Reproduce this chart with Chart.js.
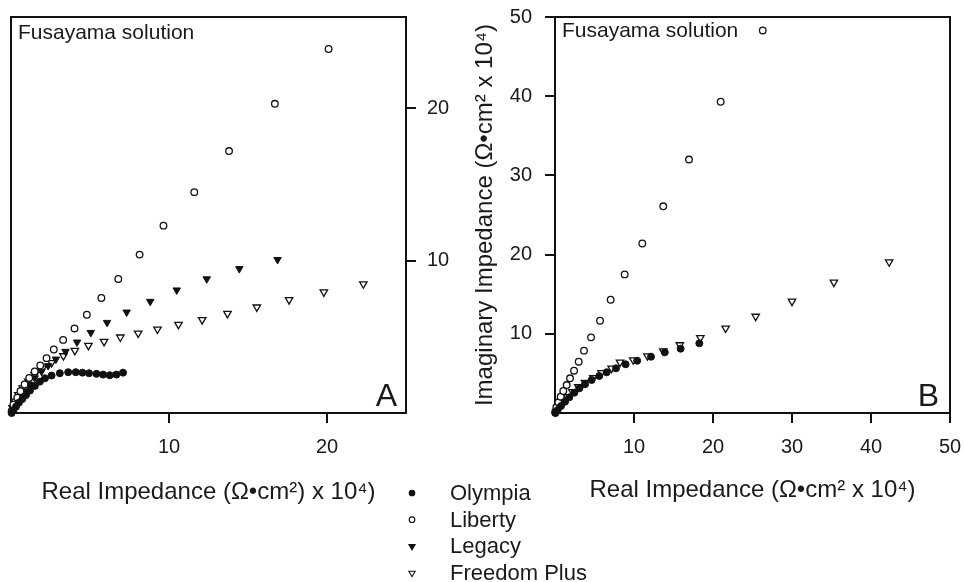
<!DOCTYPE html>
<html><head><meta charset="utf-8">
<script src="https://cdn.jsdelivr.net/npm/chart.js@4.4.1/dist/chart.umd.min.js"></script>
<style>
html,body{margin:0;padding:0;background:#fff;}
#wrap{position:relative;width:964px;height:582px;overflow:hidden;background:#fff;}
canvas{position:absolute;top:0;}
#ca{left:0;}
#cb{left:460px;}
</style></head><body>
<div id="wrap">
<canvas id="ca" width="600" height="582"></canvas>
<canvas id="cb" width="504" height="582"></canvas>
</div>
<script>
// ---------- data ----------
const seriesNames = ['Olympia', 'Liberty', 'Legacy', 'Freedom Plus'];

// Panel A
const aOlympiaX = [0.04,0.15,0.32,0.5,0.72,0.95,1.2,1.51,1.83,2.15,2.57,3.09,3.62,4.1,4.52,4.94,5.41,5.83,6.25,6.67,7.09];
const aOlympiaY = [0.0,0.15,0.42,0.68,0.92,1.18,1.47,1.78,2.06,2.28,2.46,2.61,2.68,2.68,2.65,2.61,2.57,2.52,2.48,2.52,2.65];
const aLibertyX = [0.04,0.15,0.4,0.6,0.86,1.15,1.5,1.85,2.25,2.71,3.3,4.02,4.8,5.72,6.79,8.14,9.65,11.6,13.8,16.7,20.1];
const aLibertyY = [0.12,0.55,1.0,1.43,1.87,2.3,2.73,3.12,3.6,4.17,4.8,5.55,6.45,7.55,8.8,10.4,12.3,14.5,17.2,20.3,23.9];
const aLegacyX = [0.08,0.25,0.53,0.82,1.16,1.5,1.93,2.35,2.84,3.45,4.18,5.05,6.08,7.32,8.81,10.49,12.39,14.45,16.87];
const aLegacyY = [0.12,0.56,1.0,1.43,1.87,2.3,2.73,3.1,3.53,4.04,4.65,5.28,5.94,6.62,7.32,8.07,8.8,9.47,10.07];
const aFreedomX = [0.1,0.25,0.46,0.74,1.09,1.5,2.0,2.57,3.32,4.04,4.9,5.89,6.92,8.05,9.27,10.6,12.1,13.7,15.56,17.6,19.8,22.3];
const aFreedomY = [0.34,0.77,1.2,1.64,2.08,2.5,2.94,3.3,3.75,4.1,4.43,4.69,4.98,5.24,5.5,5.81,6.12,6.53,6.95,7.43,7.94,8.47];

// Panel B
const bOlympiaX = [0.05,0.34,0.76,1.27,1.81,2.45,3.08,3.8,4.64,5.6,6.54,7.72,8.94,10.4,12.15,13.9,15.9,18.27];
const bOlympiaY = [0.0,0.38,0.88,1.43,1.98,2.57,3.12,3.62,4.17,4.67,5.14,5.64,6.15,6.6,7.11,7.66,8.12,8.8];
const bLibertyX = [0.02,0.17,0.42,0.72,1.05,1.48,1.9,2.41,3.0,3.67,4.56,5.7,7.05,8.82,11.05,13.7,16.96,20.97,26.3];
const bLibertyY = [0.1,0.72,1.35,2.06,2.78,3.53,4.38,5.34,6.48,7.87,9.55,11.65,14.3,17.5,21.4,26.1,32.0,39.3,48.3];
const bFreedomX = [0.17,0.55,1.0,1.56,2.2,2.95,3.8,4.85,5.9,7.17,8.23,9.9,11.7,13.7,15.8,18.4,21.6,25.4,30.0,35.3,42.3];
const bFreedomY = [0.17,0.8,1.43,2.06,2.69,3.32,3.83,4.46,5.09,5.64,6.4,6.7,7.2,7.83,8.6,9.5,10.7,12.2,14.1,16.5,19.07];

// Tick labels
const aXTicks = [10, 20];
const aYTicks = [10, 20];
const bXTicks = [10, 20, 30, 40, 50];
const bYTicks = [10, 20, 30, 40, 50];

const noteText = 'Fusayama solution';
const aXTitle = 'Real Impedance (Ω•cm²) x 10⁴)';
const bXTitle = 'Real Impedance (Ω•cm² x 10⁴)';
const bYTitle = 'Imaginary Impedance (Ω•cm² x 10⁴)';

// ---------- styling ----------
const FAM = '"Liberation Sans", Arial, Helvetica, sans-serif';
const INK = '#111';
Chart.defaults.font.family = FAM;
Chart.defaults.color = '#1a1a1a';

const styles = {
  'Olympia':      {pointStyle:'circle',   rotation:0,   radius:3.5, bg:INK,    bw:1},
  'Liberty':      {pointStyle:'circle',   rotation:0,   radius:3.3, bg:'#fff', bw:1.3},
  'Legacy':       {pointStyle:'triangle', rotation:180, radius:4.3, bg:INK,    bw:1},
  'Freedom Plus': {pointStyle:'triangle', rotation:180, radius:4.3, bg:'#fff', bw:1.3}
};

function zip(xs, ys){ return xs.map((x,i)=>({x:x, y:ys[i]})); }
function ds(name, xs, ys){
  const s = styles[name];
  return {
    label:name, data:zip(xs,ys), showLine:false, clip:false,
    pointStyle:s.pointStyle, rotation:s.rotation, pointRadius:s.radius,
    pointBackgroundColor:s.bg, pointBorderColor:INK, pointBorderWidth:s.bw,
    pointHoverRadius:s.radius
  };
}

const framePlugin = {
  id:'frame',
  beforeDatasetsDraw(chart, args, o){
    const {ctx, chartArea:{left,top,right,bottom}} = chart;
    ctx.save();
    ctx.strokeStyle = INK; ctx.lineWidth = 2;
    ctx.strokeRect(left, top, right-left, bottom-top);
    ctx.fillStyle = '#1a1a1a';
    ctx.textBaseline = 'alphabetic';
    ctx.textAlign = 'left';
    ctx.font = '21px ' + FAM;
    ctx.fillText(o.note, left + 7, top + o.noteDy);
    ctx.textAlign = 'right';
    ctx.font = '32px ' + FAM;
    ctx.fillText(o.letter, right - o.letterDx, bottom - 7);
    ctx.restore();
  }
};

function drawMarker(ctx, s, x, y, r){
  ctx.beginPath();
  if (s.pointStyle === 'circle') {
    ctx.arc(x, y, r, 0, Math.PI*2);
  } else {
    const h = r;
    ctx.moveTo(x - h*0.87, y - h*0.5);
    ctx.lineTo(x + h*0.87, y - h*0.5);
    ctx.lineTo(x, y + h);
    ctx.closePath();
  }
  ctx.fillStyle = s.bg; ctx.fill();
  ctx.lineWidth = 1.1; ctx.strokeStyle = INK; ctx.stroke();
}

const legendPlugin = {
  id:'sideLegend',
  afterDraw(chart){
    const ctx = chart.ctx;
    ctx.save();
    ctx.font = '22px ' + FAM;
    ctx.textBaseline = 'middle';
    ctx.textAlign = 'left';
    chart.data.datasets.forEach((d, i) => {
      const y = 493 + i * 26.7;
      const s = styles[d.label];
      drawMarker(ctx, s, 412, y, s.pointStyle === 'circle' ? 2.8 : 3.6);
      ctx.fillStyle = '#1a1a1a';
      ctx.fillText(d.label, 450, y + 1);
    });
    ctx.restore();
  }
};

function axisCommon(ticksArr, fitKey, fitVal, pad){
  return {
    type:'linear',
    afterBuildTicks: s => { s.ticks = ticksArr.map(v => ({value:v})); },
    afterFit: s => {
      s[fitKey] = fitVal;
      s.paddingTop = 0; s.paddingBottom = 0; s.paddingLeft = 0; s.paddingRight = 0;
    },
    grid:{drawOnChartArea:false, drawTicks:true, tickLength:10, color:INK, lineWidth:2},
    border:{display:false},
    ticks:{font:{size:20, family:FAM}, color:'#1a1a1a', padding:pad, autoSkip:false, maxRotation:0,
           callback: v => String(v)}
  };
}

// ---------- Panel A ----------
new Chart(document.getElementById('ca'), {
  type:'scatter',
  data:{datasets:[
    ds('Olympia', aOlympiaX, aOlympiaY),
    ds('Liberty', aLibertyX, aLibertyY),
    ds('Legacy', aLegacyX, aLegacyY),
    ds('Freedom Plus', aFreedomX, aFreedomY)
  ]},
  options:{
    responsive:false, animation:false, events:[],
    layout:{padding:{left:11, top:17, right:130, bottom:69}},
    plugins:{legend:{display:false}, tooltip:{enabled:false},
      frame:{note:noteText, letter:'A', letterDx:9, noteDy:22}},
    scales:{
      x:Object.assign(axisCommon(aXTicks, 'height', 100, 12), {
        min:0, max:25, position:'bottom',
        title:{display:true, text:aXTitle, font:{size:24, family:FAM}, color:'#1a1a1a', padding:{top:0, bottom:6}}
      }),
      y:Object.assign(axisCommon(aYTicks, 'width', 64, 11), {
        min:0, max:26, position:'right'
      })
    }
  },
  plugins:[framePlugin, legendPlugin]
});

// ---------- Panel B ----------
new Chart(document.getElementById('cb'), {
  type:'scatter',
  data:{datasets:[
    ds('Olympia', bOlympiaX, bOlympiaY),
    ds('Liberty', bLibertyX, bLibertyY),
    ds('Freedom Plus', bFreedomX, bFreedomY)
  ]},
  options:{
    responsive:false, animation:false, events:[],
    layout:{padding:{left:0, top:17, right:14, bottom:69}},
    plugins:{legend:{display:false}, tooltip:{enabled:false},
      frame:{note:noteText, letter:'B', letterDx:11, noteDy:20}},
    scales:{
      x:Object.assign(axisCommon(bXTicks, 'height', 100, 12), {
        min:0, max:50, position:'bottom',
        title:{display:true, text:bXTitle, font:{size:24, family:FAM}, color:'#1a1a1a', padding:{top:0, bottom:8}}
      }),
      y:Object.assign(axisCommon(bYTicks, 'width', 95, 13), {
        min:0, max:50, position:'left',
        title:{display:true, text:bYTitle, font:{size:24, family:FAM}, color:'#1a1a1a', padding:{top:11, bottom:0}}
      })
    }
  },
  plugins:[framePlugin]
});
</script>
</body></html>
